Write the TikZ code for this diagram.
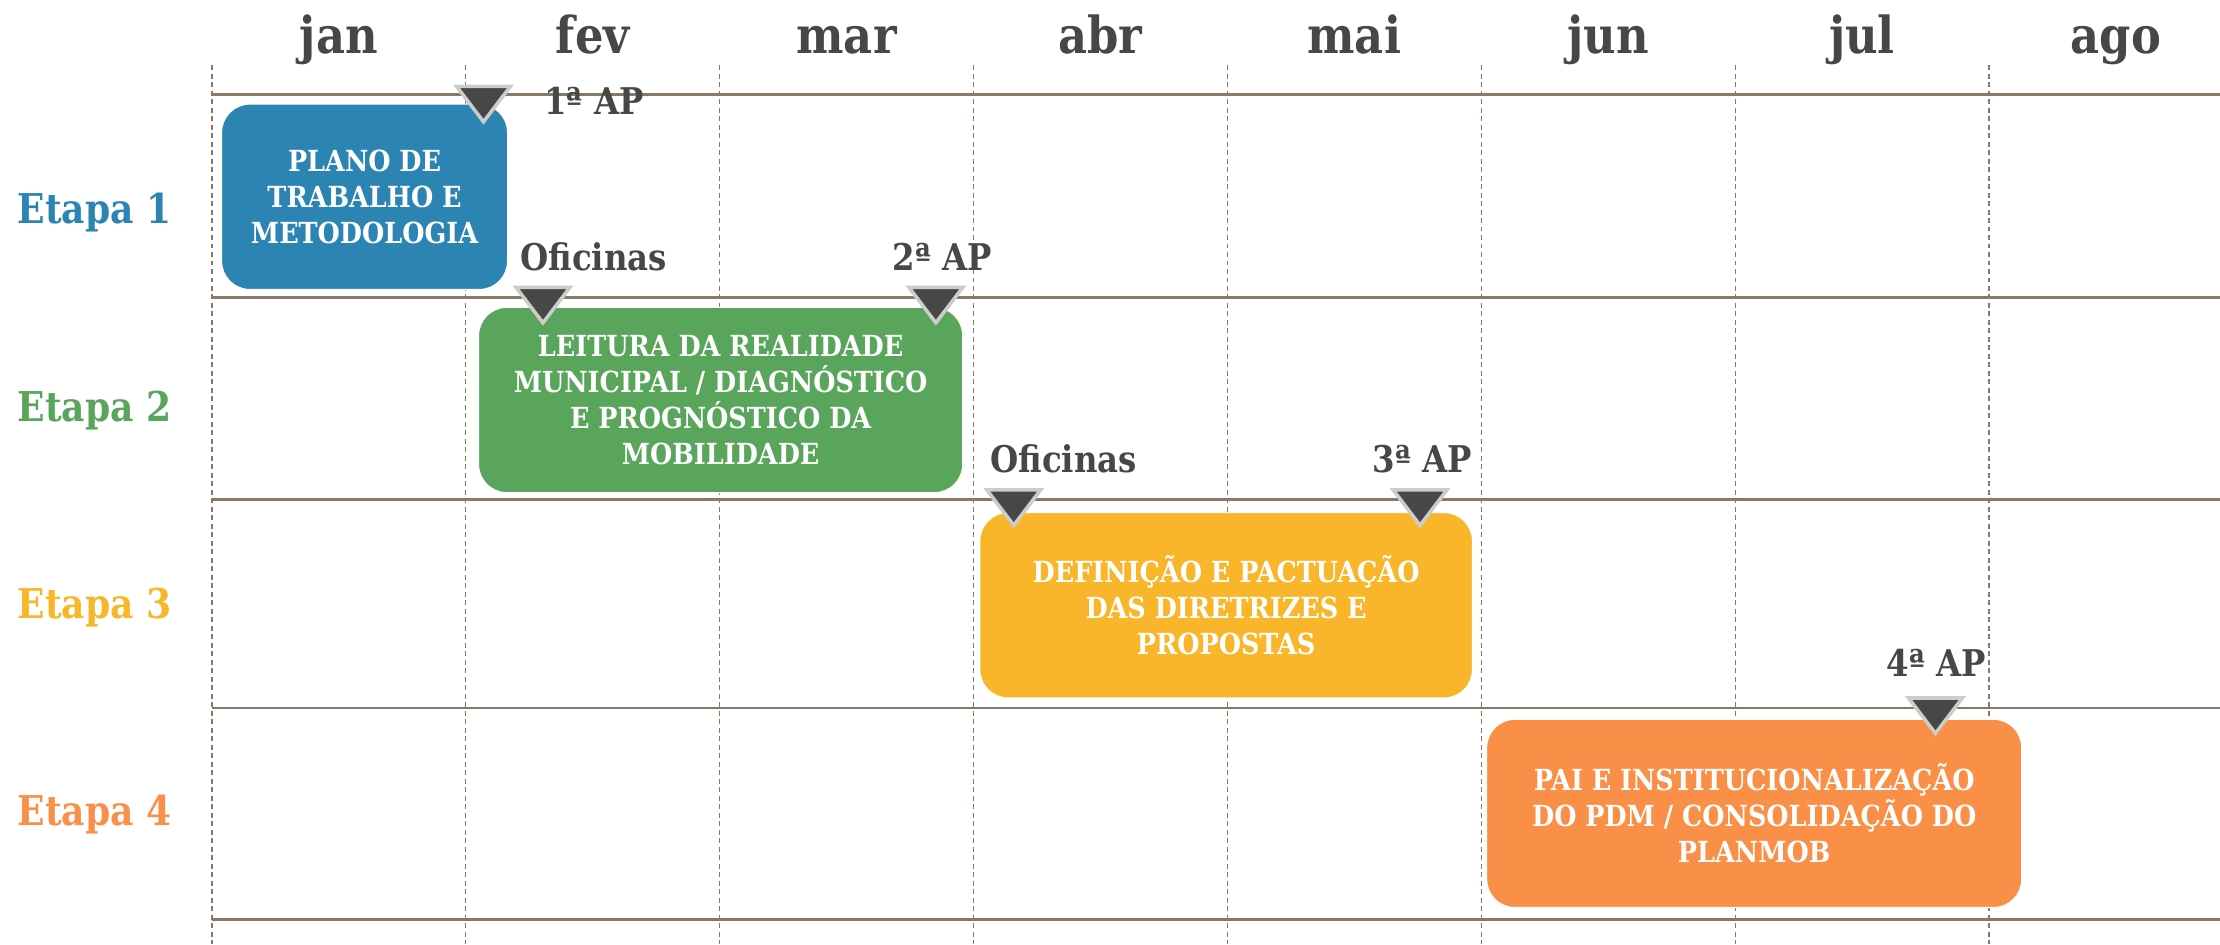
\documentclass[tikz,border=0pt]{standalone}
\usepackage{fontspec}
\setmainfont{DejaVu Serif}[FakeStretch=0.88]
\usepackage{tikz}
\definecolor{azul}{HTML}{2C84B3}
\definecolor{verde}{HTML}{5AA55C}
\definecolor{amarelo}{HTML}{F9B62B}
\definecolor{laranja}{HTML}{FA9047}
\definecolor{cinza}{HTML}{474747}
\definecolor{linha}{HTML}{8A7866}
\tikzset{
  mes/.style={font=\bfseries\fontsize{36}{42}\selectfont, text=cinza, anchor=base},
  etapa/.style={font=\bfseries\fontsize{29}{35}\selectfont, anchor=base west},
  caixa/.style={rounded corners=20pt, text=white, align=center, inner sep=0pt, font=\bfseries\fontsize{20.5}{25.5}\selectfont, draw=white, line width=0.8pt},
  marco/.style={font=\bfseries\fontsize{26}{30}\selectfont, text=cinza, anchor=base west},
  seta/.style={fill=cinza, draw=black!20, line width=2.5pt, line join=miter},
  grade/.style={draw=linha, dash pattern=on 3.5pt off 2.5pt, line width=0.8pt},
  faixa/.style={draw=linha, line width=2pt}
}
\begin{document}
\begin{tikzpicture}[x=1pt,y=-1pt]
\useasboundingbox (0,0) rectangle (1568,667);
\draw[grade] (149.7,46) -- (149.7,667);
\draw[grade] (329,46) -- (329,667);
\draw[grade] (508.3,46) -- (508.3,667);
\draw[grade] (687.6,46) -- (687.6,667);
\draw[grade] (866.9,46) -- (866.9,667);
\draw[grade] (1046.2,46) -- (1046.2,667);
\draw[grade] (1225.5,46) -- (1225.5,667);
\draw[grade] (1404.8,46) -- (1404.8,667);
\draw[faixa] (149.7,67) -- (1568,67);
\draw[faixa] (149.7,210) -- (1568,210);
\draw[faixa] (149.7,353) -- (1568,353);
\draw[faixa] (149.7,500) -- (1568,500);
\draw[faixa] (149.7,649.5) -- (1568,649.5);
\node[mes] (jan) at (239.35,37.7) {jan};
\node[mes] (fev) at (418.65,37.7) {fev};
\node[mes] (mar) at (597.95,37.7) {mar};
\node[mes] (abr) at (777.25,37.7) {abr};
\node[mes] (mai) at (956.55,37.7) {mai};
\node[mes] (jun) at (1135.85,37.7) {jun};
\node[mes] (jul) at (1315.15,37.7) {jul};
\node[mes] (ago) at (1494.45,37.7) {ago};
\node[etapa, text=azul] (E1) at (9,157.8) {Etapa 1};
\node[etapa, text=verde] (E2) at (9,297.5) {Etapa 2};
\node[etapa, text=amarelo] (E3) at (9,437) {Etapa 3};
\node[etapa, text=laranja] (E4) at (9,583) {Etapa 4};
\node[caixa, fill=azul, minimum width=202pt, minimum height=131pt] (B1) at (257.5,139) {PLANO DE\\TRABALHO E\\METODOLOGIA};
\node[caixa, fill=verde, minimum width=342pt, minimum height=131pt] (B2) at (509,282.5) {LEITURA DA REALIDADE\\MUNICIPAL / DIAGNÓSTICO\\E PROGNÓSTICO DA\\MOBILIDADE};
\node[caixa, fill=amarelo, minimum width=348pt, minimum height=131pt] (B3) at (866,427.5) {DEFINIÇÃO E PACTUAÇÃO\\DAS DIRETRIZES E\\PROPOSTAS};
\node[caixa, fill=laranja, minimum width=378pt, minimum height=133pt] (B4) at (1239,574.5) {PAI E INSTITUCIONALIZAÇÃO\\DO PDM / CONSOLIDAÇÃO DO\\PLANMOB};
\coordinate (T1) at (341.5,61);
\coordinate (T2) at (383.5,203);
\coordinate (T3) at (661,203);
\coordinate (T4) at (716,346);
\coordinate (T5) at (1003,346);
\coordinate (T6) at (1367,493);
\filldraw[seta] (T1) ++(-19,0) -- ++(38,0) -- ++(-19,25) -- cycle;
\filldraw[seta] (T2) ++(-19,0) -- ++(38,0) -- ++(-19,25) -- cycle;
\filldraw[seta] (T3) ++(-19,0) -- ++(38,0) -- ++(-19,25) -- cycle;
\filldraw[seta] (T4) ++(-19,0) -- ++(38,0) -- ++(-19,25) -- cycle;
\filldraw[seta] (T5) ++(-19,0) -- ++(38,0) -- ++(-19,25) -- cycle;
\filldraw[seta] (T6) ++(-19,0) -- ++(38,0) -- ++(-19,25) -- cycle;
\node[marco] (AP1) at (381,81) {1ª AP};
\node[marco] (O1) at (364,191) {Oficinas};
\node[marco] (AP2) at (627,191) {2ª AP};
\node[marco] (O2) at (696,334) {Oficinas};
\node[marco] (AP3) at (966,334) {3ª AP};
\node[marco] (AP4) at (1329,478) {4ª AP};
\end{tikzpicture}
\end{document}
